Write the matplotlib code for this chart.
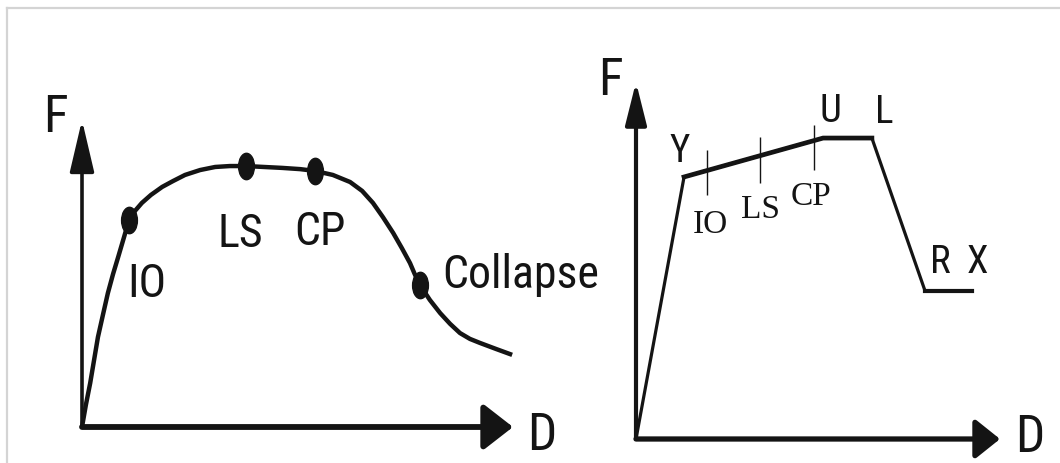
import numpy as np
import matplotlib
matplotlib.use('Agg')
import matplotlib.pyplot as plt
from matplotlib import font_manager
from matplotlib.font_manager import FontProperties
from matplotlib.path import Path
from matplotlib.transforms import Affine2D
from matplotlib.lines import Line2D

# ---- left panel: smooth force-deformation curve ----
curve_D = [0.00, 0.09, 0.19, 0.28, 0.37, 0.49, 0.60, 0.72, 0.84, 0.97, 1.09,
           1.23, 1.39, 1.60, 1.86, 2.11, 2.39, 2.74, 3.09, 3.43, 3.81, 4.22,
           4.64, 5.06, 5.41, 5.82, 6.22, 6.50, 6.75, 6.98, 7.22, 7.42, 7.61,
           7.72, 7.84, 8.07, 8.31, 8.54, 8.77, 9.00, 9.23, 9.61, 9.98]
curve_F = [0.00, 0.72, 1.43, 2.18, 2.93, 3.68, 4.36, 4.98, 5.54, 6.16, 6.74,
           7.04, 7.30, 7.56, 7.82, 8.01, 8.21, 8.37, 8.47, 8.50, 8.50, 8.47,
           8.44, 8.40, 8.34, 8.21, 7.98, 7.69, 7.30, 6.84, 6.32, 5.83, 5.34,
           4.98, 4.63, 4.14, 3.71, 3.36, 3.06, 2.87, 2.74, 2.54, 2.35]

level_labels = ['IO', 'LS', 'CP', 'Collapse']
level_D = [1.09, 3.81, 5.41, 7.84]
level_F = [6.74, 8.50, 8.34, 4.63]

# ---- right panel: multilinear backbone ----
point_labels = ['', 'Y', 'U', 'L', 'R', 'X']
backbone_D = [0.0, 1.32, 5.14, 6.48, 7.94, 9.23]
backbone_F = [0.0, 7.34, 8.43, 8.43, 4.15, 4.15]

tick_labels = ['IO', 'LS', 'CP']
tick_D = [1.95, 3.41, 4.89]
tick_F_low = [6.83, 7.17, 7.54]
tick_F_high = [8.10, 8.46, 8.80]


def narrow_sans():
    # the reference lettering is a condensed grotesque; use one if installed
    wanted = ['Liberation Sans Narrow', 'Arial Narrow', 'Roboto Condensed',
              'Open Sans Condensed', 'Noto Sans', 'DejaVu Sans']
    for name in wanted:
        for f in font_manager.fontManager.ttflist:
            if f.name != name or f.style != 'normal':
                continue
            if str(f.weight).lower() not in ('400', 'normal', 'regular', 'book'):
                continue
            if 'Narrow' in name or 'Condensed' in name or f.stretch == 'condensed':
                return f.fname, True
    return font_manager.findfont('Liberation Sans'), False


SANS_FILE, NARROW = narrow_sans()
SERIF = 'Liberation Serif'
INK = '#141414'


def sans(size):
    return FontProperties(fname=SANS_FILE, size=size)


dot = Path.unit_circle().transformed(Affine2D().scale(0.6, 1.0))

fig = plt.figure(figsize=(10.6, 4.63), dpi=100)
W, H = 1060, 463

# thin grey frame at top / left
fig.add_artist(Line2D([7 / W, 7 / W], [0, 1 - 8 / H], color='#d4d4d4', lw=1.6))
fig.add_artist(Line2D([7 / W, 1], [1 - 8 / H, 1 - 8 / H], color='#d4d4d4', lw=1.6))

big = 37 if NARROW else 33
lab_size = 33 if NARROW else 29
small = 28 if NARROW else 25


def draw_axes(ax, lw_y, lw_x, head_y, head_x, f_off, d_off):
    ax.set_xlim(0, 10)
    ax.set_ylim(0, 10)
    ax.axis('off')
    ax.annotate('', xy=(0, 1), xytext=(0, 0), xycoords='axes fraction',
                arrowprops=dict(arrowstyle='-|>,head_length=%g,head_width=%g' % head_y,
                                lw=lw_y, color=INK, shrinkA=0, shrinkB=0, mutation_scale=1))
    ax.annotate('', xy=(1, 0), xytext=(0, 0), xycoords='axes fraction',
                arrowprops=dict(arrowstyle='-|>,head_length=%g,head_width=%g' % head_x,
                                lw=lw_x, color=INK, shrinkA=0, shrinkB=0, mutation_scale=1))
    ax.annotate('F', xy=(0, 1), xycoords='axes fraction', xytext=f_off,
                textcoords='offset pixels', ha='center', va='baseline',
                fontproperties=sans(big), color=INK)
    ax.annotate('D', xy=(1, 0), xycoords='axes fraction', xytext=d_off,
                textcoords='offset pixels', ha='center', va='baseline',
                fontproperties=sans(big), color=INK, annotation_clip=False)


# ---------------- left panel ----------------
axL = fig.add_axes([82 / W, 36 / H, 431 / W, 307 / H])
draw_axes(axL, 2.6, 4.2, (32, 7.5), (18, 14), (-27, -12), (29, -23))
axL.plot(curve_D, curve_F, color=INK, lw=3.2, solid_joinstyle='round',
         solid_capstyle='butt', clip_on=False)
axL.plot(level_D, level_F, ls='none', marker=dot, markersize=19, color=INK, clip_on=False)

left_offsets = [(18, -77), (-6, -81), (5, -74), (22, -3)]
for lab, d, f, off in zip(level_labels, level_D, level_F, left_offsets):
    axL.annotate(lab, xy=(d, f), xytext=off, textcoords='offset pixels',
                 ha='left' if lab == 'Collapse' else 'center', va='baseline',
                 fontproperties=sans(lab_size), color=INK)

# ---------------- right panel ----------------
axR = fig.add_axes([636 / W, 24 / H, 364 / W, 357 / H])
draw_axes(axR, 3.0, 3.8, (26, 6.5), (15, 12), (-26, -13), (30, -13))
axR.plot(backbone_D, backbone_F, color=INK, lw=2.3, solid_joinstyle='miter', clip_on=False)
axR.plot(backbone_D[1:4], backbone_F[1:4], color=INK, lw=3.4, solid_joinstyle='miter')
axR.plot(backbone_D[4:], backbone_F[4:], color=INK, lw=3.0)
axR.vlines(tick_D, tick_F_low, tick_F_high, color=INK, lw=1.0)

right_offsets = [None, (-4, 15), (7, 16), (12, 15), (15, 18), (5, 18)]
for lab, d, f, off in zip(point_labels, backbone_D, backbone_F, right_offsets):
    if not lab:
        continue
    axR.annotate(lab, xy=(d, f), xytext=off, textcoords='offset pixels',
                 ha='center', va='baseline', fontproperties=sans(small), color=INK)

tick_offsets = [(3, -38), (0, -35), (-3, -35)]
for lab, d, f, off in zip(tick_labels, tick_D, tick_F_low, tick_offsets):
    axR.annotate(lab, xy=(d, f), xytext=off, textcoords='offset pixels',
                 ha='center', va='baseline', fontsize=24, family=SERIF, color=INK)

fig.savefig('out.png', dpi=100, facecolor='white')
